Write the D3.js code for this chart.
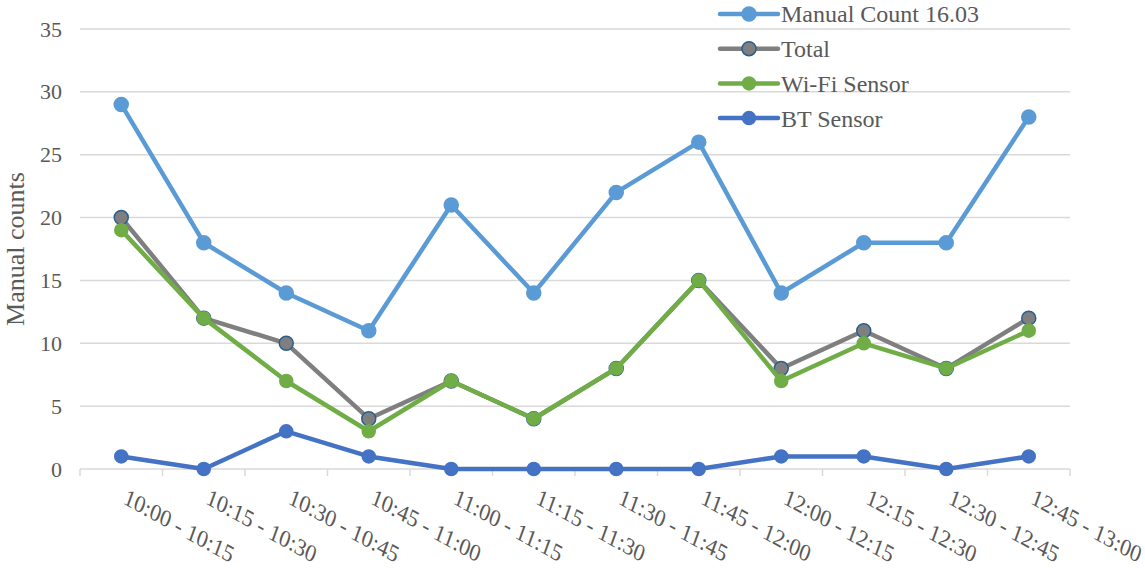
<!DOCTYPE html>
<html>
<head>
<meta charset="utf-8">
<script src="https://cdn.jsdelivr.net/npm/d3@7"></script>
<style>
  html, body { margin: 0; padding: 0; background: #fff; }
  svg { display: block; }
  svg text { font-family: "Liberation Serif", "DejaVu Serif", serif; }
</style>
</head>
<body>
<div id="chart"></div>
<script>
// Time slots on the category axis
const slots = ["10:00 - 10:15", "10:15 - 10:30", "10:30 - 10:45", "10:45 - 11:00",
  "11:00 - 11:15", "11:15 - 11:30", "11:30 - 11:45", "11:45 - 12:00",
  "12:00 - 12:15", "12:15 - 12:30", "12:30 - 12:45", "12:45 - 13:00"];

// Counts per slot
const manualCount = [29, 18, 14, 11, 21, 14, 22, 26, 14, 18, 18, 28];
const totalCount  = [20, 12, 10, 4, 7, 4, 8, 15, 8, 11, 8, 12];
const wifiCount   = [19, 12, 7, 3, 7, 4, 8, 15, 7, 10, 8, 11];
const btCount     = [1, 0, 3, 1, 0, 0, 0, 0, 1, 1, 0, 1];

const yTicks = [0, 5, 10, 15, 20, 25, 30, 35];

const series = [
  { name: "Manual Count 16.03", values: manualCount, color: "#5B9BD5", stroke: "#5B9BD5", r: 7 },
  { name: "Total",              values: totalCount,  color: "#7F7F7F", stroke: "#2A5E91", r: 7 },
  { name: "Wi-Fi Sensor",       values: wifiCount,   color: "#70AD47", stroke: "#70AD47", r: 6.5 },
  { name: "BT Sensor",          values: btCount,     color: "#4472C4", stroke: "#4472C4", r: 6.5 }
];

const W = 1145, H = 568;
const margin = { left: 80, right: 75, top: 29, bottom: 99 };
const textColor = "#595959";

const svg = d3.select("#chart").append("svg")
  .attr("width", W).attr("height", H);

const x = d3.scaleBand().domain(slots)
  .range([margin.left, W - margin.right]);
const y = d3.scaleLinear().domain([0, 35])
  .range([H - margin.bottom, margin.top]);

// Horizontal gridlines
svg.append("g").selectAll("line")
  .data(yTicks.filter(d => d > 0))
  .join("line")
  .attr("x1", margin.left).attr("x2", W - margin.right)
  .attr("y1", d => y(d)).attr("y2", d => y(d))
  .attr("stroke", "#D9D9D9").attr("stroke-width", 1.5);

// Y axis labels
const yAxis = svg.append("g")
  .attr("transform", `translate(${margin.left},0)`)
  .call(d3.axisLeft(y).tickValues(yTicks).tickSize(0).tickPadding(18));
yAxis.select(".domain").remove();
yAxis.selectAll("text")
  .attr("font-family", null).attr("font-size", 22).attr("fill", textColor);

// Category axis with ticks between slots
const xAxisY = y(0);
const xg = svg.append("g").attr("transform", `translate(0,${xAxisY})`);
xg.append("line")
  .attr("x1", margin.left).attr("x2", W - margin.right)
  .attr("stroke", "#D9D9D9").attr("stroke-width", 1.5);
const bounds = slots.map(s => x(s)).concat([x(slots[slots.length - 1]) + x.bandwidth()]);
xg.selectAll("line.tick").data(bounds).join("line")
  .attr("class", "tick")
  .attr("x1", d => d).attr("x2", d => d)
  .attr("y1", 0).attr("y2", 7)
  .attr("stroke", "#D9D9D9").attr("stroke-width", 1.5);
// Slanted category labels
xg.selectAll("text").data(slots).join("text")
  .attr("transform", d => `translate(${x(d) + x.bandwidth() / 2 + 1},34) rotate(29) skewX(9)`)
  .attr("font-size", 23).attr("fill", textColor)
  .text(d => d);

// Y axis title
svg.append("text")
  .attr("transform", `translate(24,${249}) rotate(-90)`)
  .attr("text-anchor", "middle")
  .attr("font-size", 26).attr("fill", textColor)
  .text("Manual counts");

// Lines and markers
const cx = i => x(slots[i]) + x.bandwidth() / 2;
const line = d3.line().x((d, i) => cx(i)).y(d => y(d));

series.forEach(s => {
  const g = svg.append("g");
  g.append("path")
    .attr("d", line(s.values))
    .attr("fill", "none").attr("stroke", s.color)
    .attr("stroke-width", 4.5).attr("stroke-linejoin", "round");
  g.selectAll("circle").data(s.values).join("circle")
    .attr("cx", (d, i) => cx(i)).attr("cy", d => y(d))
    .attr("r", s.r)
    .attr("fill", s.color).attr("stroke", s.stroke).attr("stroke-width", 1.5);
});

// Legend
const legend = svg.append("g").attr("transform", "translate(720,14)");
series.forEach((s, i) => {
  const row = legend.append("g").attr("transform", `translate(0,${i * 34.7})`);
  row.append("line").attr("x1", 0).attr("x2", 58)
    .attr("stroke", s.color).attr("stroke-width", 4.5).attr("stroke-linecap", "round");
  row.append("circle").attr("cx", 29).attr("r", s.r)
    .attr("fill", s.color).attr("stroke", s.stroke).attr("stroke-width", 1.5);
  row.append("text").attr("x", 61).attr("dy", "0.35em")
    .attr("font-size", 24).attr("fill", textColor)
    .text(s.name);
});
</script>
</body>
</html>
